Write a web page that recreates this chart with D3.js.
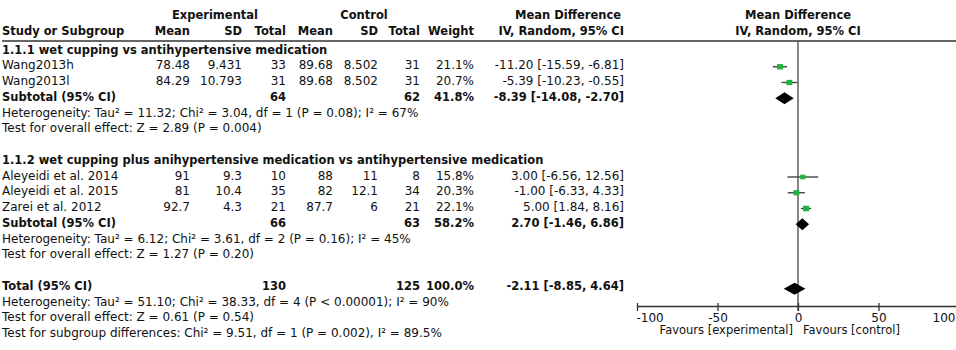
<!DOCTYPE html>
<html><head><meta charset="utf-8">
<script src="https://cdn.jsdelivr.net/npm/d3@7"></script>
<style>body{margin:0;background:#fff}svg{display:block}text{font-family:"DejaVu Sans",sans-serif;font-size:12px;fill:#111}</style>
</head><body><svg id="c" width="956" height="350"></svg>
<script>
// ---- data ----
const studies = ["Wang2013h","Wang2013l","Aleyeidi et al. 2014","Aleyeidi et al. 2015","Zarei et al. 2012"];
const studyGroup = [0,0,1,1,1];
const expMean = [78.48, 84.29, 91, 81, 92.7];
const expSD = [9.431, 10.793, 9.3, 10.4, 4.3];
const expN = [33, 31, 10, 35, 21];
const ctrlMean = [89.68, 89.68, 88, 82, 87.7];
const ctrlSD = [8.502, 8.502, 11, 12.1, 6];
const ctrlN = [31, 31, 8, 34, 21];
const weights = [21.1, 20.7, 15.8, 20.3, 22.1];
const md = [-11.20, -5.39, 3.00, -1.00, 5.00];
const mdLo = [-15.59, -10.23, -6.56, -6.33, 1.84];
const mdHi = [-6.81, -0.55, 12.56, 4.33, 8.16];

const groupTitles = ["1.1.1 wet cupping vs antihypertensive medication",
  "1.1.2 wet cupping plus anihypertensive medication vs antihypertensive medication"];
const subExpN = [64, 66];
const subCtrlN = [62, 63];
const subWeight = [41.8, 58.2];
const subMd = [-8.39, 2.70];
const subLo = [-14.08, -1.46];
const subHi = [-2.70, 6.86];
const subHet = ["Heterogeneity: Tau² = 11.32; Chi² = 3.04, df = 1 (P = 0.08); I² = 67%",
  "Heterogeneity: Tau² = 6.12; Chi² = 3.61, df = 2 (P = 0.16); I² = 45%"];
const subTest = ["Test for overall effect: Z = 2.89 (P = 0.004)",
  "Test for overall effect: Z = 1.27 (P = 0.20)"];

const totalExpN = 130, totalCtrlN = 125, totalWeight = 100.0;
const totalMd = -2.11, totalLo = -8.85, totalHi = 4.64;
const totalNotes = ["Heterogeneity: Tau² = 51.10; Chi² = 38.33, df = 4 (P < 0.00001); I² = 90%",
  "Test for overall effect: Z = 0.61 (P = 0.54)",
  "Test for subgroup differences: Chi² = 9.51, df = 1 (P = 0.002), I² = 89.5%"];

const axisTicks = [-100, -50, 0, 50, 100];
const axisDomain = [-100, 100];
const favourLabels = ["Favours [experimental]", "Favours [control]"];

// ---- layout ----
const W = 956;
const svg = d3.select("#c");
const x = d3.scaleLinear().domain(axisDomain).range([637, 959]);
const rowY = i => 49.5 + i * 15.75;
const col = {name:2, eM:190, eSD:242, eN:286, cM:333, cSD:378, cN:420, w:474, ci:624};
const f2 = v => v.toFixed(2);
const ciText = (m,l,h) => `${f2(m)} [${f2(l)}, ${f2(h)}]`;
const BOLD = "11.5px";

function txt(xp, y, s, anchor="start", bold=false){
  const t = svg.append("text").attr("x", xp).attr("y", y).attr("dy","0.35em")
    .attr("text-anchor", anchor).attr("font-weight", bold ? "bold" : "normal").text(s);
  if (bold) t.style("font-size", BOLD);
  return t;
}

// headers
txt(215, 15, "Experimental", "middle", true);
txt(364, 15, "Control", "middle", true);
txt(568, 15, "Mean Difference", "middle", true);
txt(798, 15, "Mean Difference", "middle", true);
txt(col.name, 31, "Study or Subgroup", "start", true);
txt(col.eM, 31, "Mean", "end", true);
txt(col.eSD, 31, "SD", "end", true);
txt(col.eN, 31, "Total", "end", true);
txt(col.cM, 31, "Mean", "end", true);
txt(col.cSD, 31, "SD", "end", true);
txt(col.cN, 31, "Total", "end", true);
txt(col.w, 31, "Weight", "end", true);
txt(col.ci, 31, "IV, Random, 95% CI", "end", true);
txt(798, 31, "IV, Random, 95% CI", "middle", true);

svg.append("line").attr("x1", 2).attr("x2", W).attr("y1", 41).attr("y2", 41)
  .attr("stroke", "#333").attr("stroke-width", 1.5);

// zero line
svg.append("line").attr("x1", x(0)).attr("x2", x(0)).attr("y1", 41).attr("y2", 311)
  .attr("stroke", "#444").attr("stroke-width", 1.3);

const gPlot = svg.append("g");
function diamond(y, m, l, h){
  const hh = 6;
  gPlot.append("path").attr("d", `M${x(l)},${y} L${x(m)},${y-hh} L${x(h)},${y} L${x(m)},${y+hh} Z`)
    .attr("fill", "#000");
}

let r = 0;
[0,1].forEach(g => {
  txt(col.name, rowY(r), groupTitles[g], "start", true); r++;
  studies.forEach((s, i) => {
    if (studyGroup[i] !== g) return;
    const y = rowY(r);
    txt(col.name, y, s);
    txt(col.eM, y, String(expMean[i]), "end");
    txt(col.eSD, y, String(expSD[i]), "end");
    txt(col.eN, y, String(expN[i]), "end");
    txt(col.cM, y, String(ctrlMean[i]), "end");
    txt(col.cSD, y, String(ctrlSD[i]), "end");
    txt(col.cN, y, String(ctrlN[i]), "end");
    txt(col.w, y, weights[i].toFixed(1) + "%", "end");
    txt(col.ci, y, ciText(md[i], mdLo[i], mdHi[i]), "end");
    const my = y + 1.5;
    gPlot.append("line").attr("x1", x(mdLo[i])).attr("x2", x(mdHi[i])).attr("y1", my).attr("y2", my)
      .attr("stroke", "#444").attr("stroke-width", 1.4);
    const sz = Math.sqrt(weights[i]) * 1.3;
    gPlot.append("rect").attr("x", x(md[i]) - sz/2).attr("y", my - sz*0.45).attr("width", sz).attr("height", sz*0.9)
      .attr("fill", "#22b23f");
    r++;
  });
  const y = rowY(r);
  txt(col.name, y, "Subtotal (95% CI)", "start", true);
  txt(col.eN, y, String(subExpN[g]), "end", true);
  txt(col.cN, y, String(subCtrlN[g]), "end", true);
  txt(col.w, y, subWeight[g].toFixed(1) + "%", "end", true);
  txt(col.ci, y, ciText(subMd[g], subLo[g], subHi[g]), "end", true);
  diamond(y + 1.5, subMd[g], subLo[g], subHi[g]);
  r++;
  txt(col.name, rowY(r), subHet[g]); r++;
  txt(col.name, rowY(r), subTest[g]); r++;
  r++;
});
const ty = rowY(r);
txt(col.name, ty, "Total (95% CI)", "start", true);
txt(col.eN, ty, String(totalExpN), "end", true);
txt(col.cN, ty, String(totalCtrlN), "end", true);
txt(col.w, ty, totalWeight.toFixed(1) + "%", "end", true);
txt(col.ci, ty, ciText(totalMd, totalLo, totalHi), "end", true);
diamond(ty + 3, totalMd, totalLo, totalHi);
r++;
totalNotes.forEach(n => { txt(col.name, rowY(r), n); r++; });

// axis
const axY = 306;
const axis = d3.axisBottom(x).tickValues(axisTicks).tickSize(5).tickSizeOuter(0).tickFormat(d => d);
const ga = svg.append("g").attr("transform", `translate(0,${axY})`).call(axis);
ga.select(".domain").attr("stroke", "#333").attr("stroke-width", 1.3);
ga.selectAll(".tick line").attr("stroke", "#333").attr("stroke-width", 1.3).attr("y1", -3).attr("y2", 5);
ga.selectAll(".tick text").attr("y", 7).attr("font-size", 11.5).attr("font-family", "DejaVu Sans").attr("fill", "#111")
  .attr("text-anchor", d => d === axisDomain[0] ? "start" : d === axisDomain[1] ? "end" : "middle")
  .attr("x", d => d === axisDomain[1] ? (W - 1) - x(d) : 0)
  .attr("dx", d => d === axisDomain[0] ? -1 : 0)
  .text(d => d < 0 ? "-" + Math.abs(d) : d);
txt(x(0) - 5, 330, favourLabels[0], "end").style("font-size", "11.5px");
txt(x(0) + 5, 330, favourLabels[1], "start").style("font-size", "11.5px");
</script></body></html>
